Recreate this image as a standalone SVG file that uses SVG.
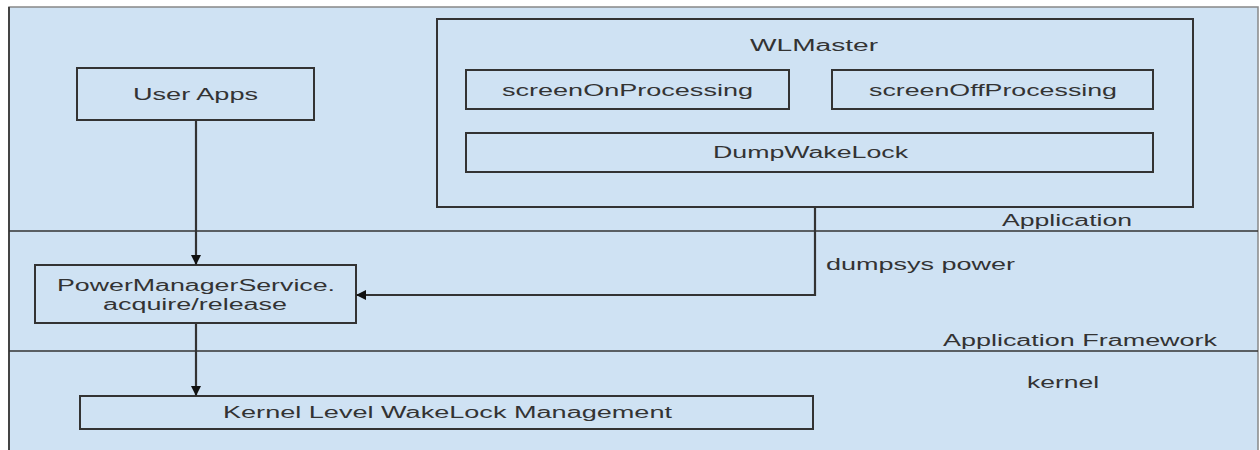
<svg xmlns="http://www.w3.org/2000/svg" width="1260" height="450" viewBox="0 0 1260 450">
  <defs>
    <marker id="arr" viewBox="0 0 10 10" refX="10" refY="5" markerWidth="10" markerHeight="10" markerUnits="userSpaceOnUse" orient="auto">
      <path d="M0,0 L10,5 L0,10 z" fill="#111"/>
    </marker>
    <style>
      .box { fill: none; stroke: #333; stroke-width: 2; }
      .sep { stroke: #333; stroke-width: 1.5; }
      .conn { fill: none; stroke: #333; stroke-width: 2.2; }
      text { font-family: "Liberation Sans", Arial, sans-serif; font-size: 16px; fill: #333; }
    </style>
  </defs>
  <rect x="0" y="0" width="1260" height="450" fill="#ffffff"/>
  <g id="background">
    <rect x="9" y="7" width="1249" height="450" fill="#cfe2f3" stroke="#888" stroke-width="1.5"/>
    <line x1="9" y1="7" x2="9" y2="450" stroke="#444" stroke-width="2"/>
    <line class="sep" x1="9" y1="231" x2="1258" y2="231"/>
    <line class="sep" x1="9" y1="351" x2="1258" y2="351"/>
  </g>
  <g id="layer-labels">
    <text x="1002" y="226" textLength="130" lengthAdjust="spacingAndGlyphs">Application</text>
    <text x="943" y="346" textLength="274" lengthAdjust="spacingAndGlyphs">Application Framework</text>
    <text x="1027" y="388" textLength="72" lengthAdjust="spacingAndGlyphs">kernel</text>
  </g>
  <g id="user-apps">
    <rect class="box" x="77" y="68" width="237" height="52"/>
    <text x="133" y="100" textLength="125" lengthAdjust="spacingAndGlyphs">User Apps</text>
  </g>
  <g id="wlmaster">
    <rect class="box" x="437" y="19" width="756" height="188"/>
    <text x="750" y="51" textLength="128" lengthAdjust="spacingAndGlyphs">WLMaster</text>
  </g>
  <g id="screen-on">
    <rect class="box" x="466" y="70" width="323" height="39"/>
    <text x="502" y="96" textLength="251" lengthAdjust="spacingAndGlyphs">screenOnProcessing</text>
  </g>
  <g id="screen-off">
    <rect class="box" x="832" y="70" width="321" height="39"/>
    <text x="869" y="96" textLength="248" lengthAdjust="spacingAndGlyphs">screenOffProcessing</text>
  </g>
  <g id="dump-wakelock">
    <rect class="box" x="466" y="133" width="687" height="39"/>
    <text x="713" y="158" textLength="195" lengthAdjust="spacingAndGlyphs">DumpWakeLock</text>
  </g>
  <g id="power-manager">
    <rect class="box" x="35" y="265" width="321" height="58"/>
    <text x="57" y="291" textLength="278" lengthAdjust="spacingAndGlyphs">PowerManagerService.</text>
    <text x="103" y="310" textLength="184" lengthAdjust="spacingAndGlyphs">acquire/release</text>
  </g>
  <g id="kernel-wakelock">
    <rect class="box" x="80" y="396" width="733" height="33"/>
    <text x="223" y="418" textLength="449" lengthAdjust="spacingAndGlyphs">Kernel Level WakeLock Management</text>
  </g>
  <g id="connectors">
    <path class="conn" d="M196,120 V265" marker-end="url(#arr)"/>
    <path class="conn" d="M196,323 V396" marker-end="url(#arr)"/>
    <path class="conn" d="M815,207 V295 H356" marker-end="url(#arr)"/>
    <text x="826" y="270" textLength="189" lengthAdjust="spacingAndGlyphs">dumpsys power</text>
  </g>
</svg>
